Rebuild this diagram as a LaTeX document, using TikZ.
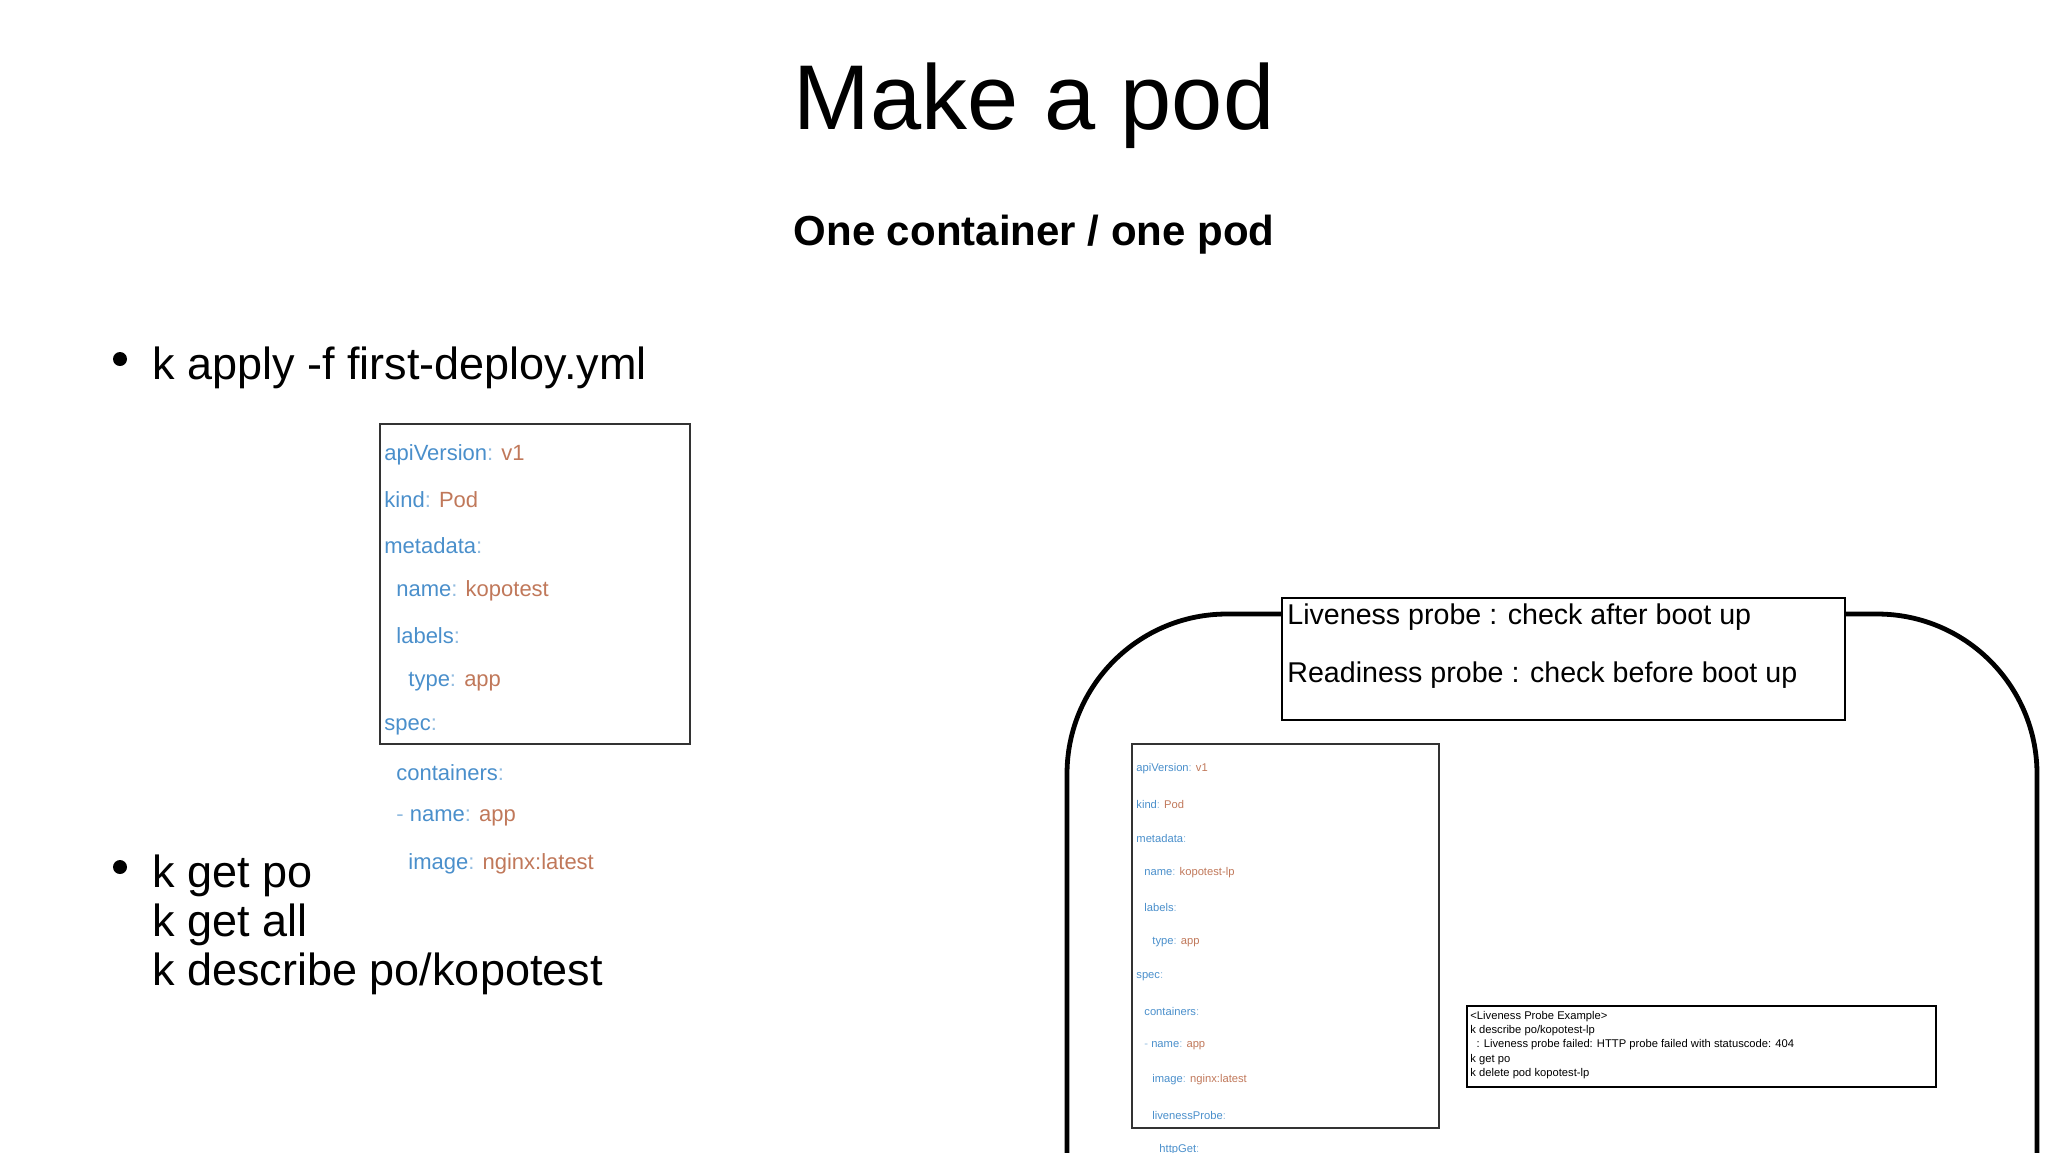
\documentclass[tikz,border=0pt]{standalone}
\usepackage{fontspec}
\setmainfont{Liberation Sans}
\definecolor{ykey}{HTML}{4A8FCB}
\definecolor{yval}{HTML}{C0785A}
\tikzset{
  yl/.style={anchor=west,inner sep=0pt,font=\fontsize{11}{13}\selectfont},
  ys/.style={anchor=west,inner sep=0pt,font=\fontsize{5.6}{7}\selectfont},
  bul/.style={anchor=west,inner sep=0pt,font=\fontsize{22.5}{26}\selectfont},
  boxb/.style={draw=black!80,line width=0.7pt}
}
\newcommand{\kv}[2]{\textcolor{ykey}{#1}\textcolor{ykey!60}{:} \textcolor{yval}{#2}}
\newcommand{\kk}[1]{\textcolor{ykey}{#1}\textcolor{ykey!60}{:}}
\begin{document}
\begin{tikzpicture}[x=0.5pt,y=-0.5pt]
\useasboundingbox (0,0) rectangle (2048,1152);
\node (title) at (1034,106) {\fontsize{46}{50}\selectfont Make a pod};
\node (sub) at (1034,235) {\fontsize{21}{25}\selectfont\bfseries One container / one pod};
\fill (120,359) circle (7) coordinate (b1);
\node[bul] (t1) at (152,368) {k apply -f first-deploy.yml};
\fill (120,867) circle (7) coordinate (b2);
\node[bul] (t2) at (152,876) {k get po};
\node[bul] (t3) at (152,925) {k get all};
\node[bul] (t4) at (152,974) {k describe po/kopotest};
% yaml 1
\draw[boxb] (380,424) rectangle (690,744);
\foreach \y/\x/\t in {455/384/{\kv{apiVersion}{v1}},500/384/{\kv{kind}{Pod}},546/384/{\kk{metadata}},591/396/{\kv{name}{kopotest}},636/396/{\kk{labels}},682/408/{\kv{type}{app}},727/384/{\kk{spec}},773/396/{\kk{containers}},818/396/{\textcolor{ykey!60}{-} \kv{name}{app}},864/408/{\kv{image}{nginx:latest}}}
  \node[yl] at (\x,\y) {\t};
% big rounded area
\draw[line width=2.4pt,rounded corners=80] (1067,1162) -- (1067,614) -- (2037,614) -- (2037,1162);
\node[draw=black,line width=1pt,fill=white,minimum width=281.5pt,minimum height=61pt,anchor=north west,inner sep=0pt] (probe) at (1281,597) {};
\node[anchor=west,inner sep=0pt,font=\fontsize{14.3}{17}\selectfont] at (1287,617) {Liveness probe : check after boot up};
\node[anchor=west,inner sep=0pt,font=\fontsize{14.3}{17}\selectfont] at (1287,675) {Readiness probe : check before boot up};
% yaml 2
\draw[boxb] (1132,744) rectangle (1439,1128);
\foreach \y/\x/\t in {769/1136/{\kv{apiVersion}{v1}},804/1136/{\kv{kind}{Pod}},838/1136/{\kk{metadata}},873/1144/{\kv{name}{kopotest-lp}},907/1144/{\kk{labels}},942/1152/{\kv{type}{app}},977/1136/{\kk{spec}},1011/1144/{\kk{containers}},1046/1144/{\textcolor{ykey!60}{-} \kv{name}{app}},1080/1152/{\kv{image}{nginx:latest}},1115/1152/{\kk{livenessProbe}},1150/1159/{\kk{httpGet}}}
  \node[ys] at (\x,\y) {\t};
% example box
\node[draw=black,line width=1.2pt,minimum width=234.5pt,minimum height=40.5pt,anchor=north west,inner sep=0pt] (ex) at (1466,1005) {};
\node[anchor=north west,inner sep=0pt,align=left,font=\fontsize{5.6}{7.1}\selectfont] (ext) at (1470,1011) {<Liveness Probe Example>\\k describe po/kopotest-lp\\\ \ : Liveness probe failed: HTTP probe failed with statuscode: 404\\k get po\\k delete pod kopotest-lp};
\end{tikzpicture}
\end{document}
